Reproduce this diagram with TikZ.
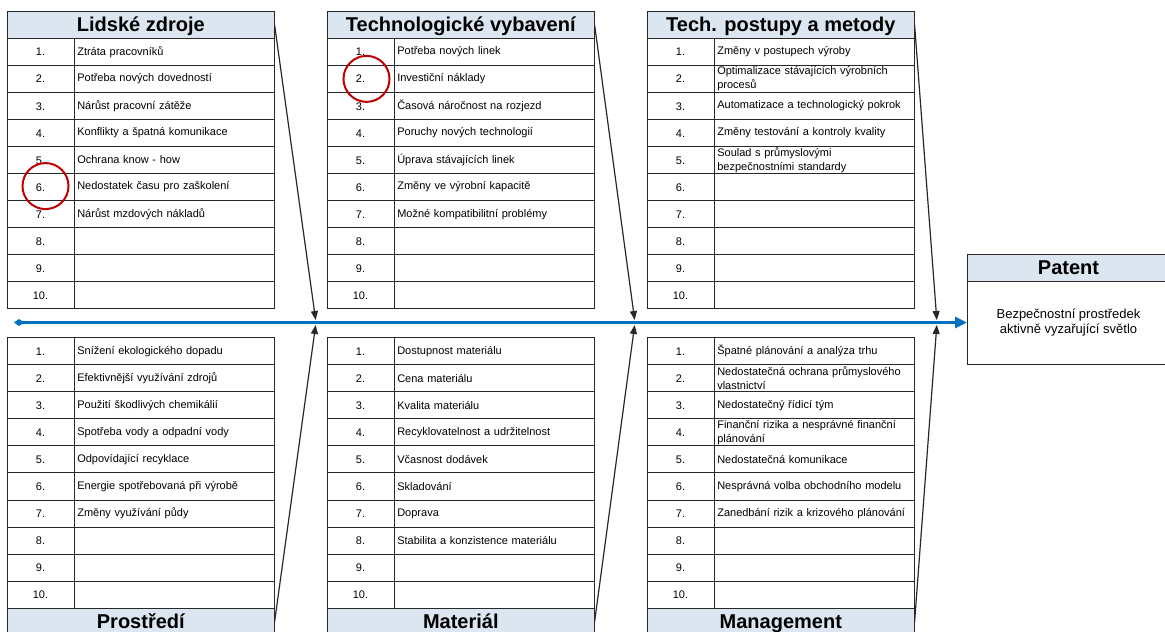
\documentclass[tikz,border=0pt]{standalone}
\usepackage{fontspec}
\setmainfont{Liberation Sans}
\usepackage{xcolor}
\usepackage{tikz}
\usetikzlibrary{arrows.meta,positioning}

\definecolor{headblue}{RGB}{220,230,241}
\definecolor{spineblue}{RGB}{0,112,192}
\definecolor{markred}{RGB}{192,0,0}
\definecolor{gridgray}{RGB}{40,40,40}

\begin{document}
\begin{tikzpicture}[x=1pt,y=-1pt,
    cell/.style={draw=gridgray, line width=1pt, outer sep=0pt, minimum height=27.05pt, inner ysep=0pt, font=\fontsize{11}{14}\selectfont},
    numcell/.style={cell, minimum width=67pt, inner xsep=0pt, text height=8.2pt, text depth=0pt},
    txtcell/.style={cell, text width=194pt, inner xsep=3.3pt, align=left},
    head/.style={draw=gridgray, line width=1pt, outer sep=0pt, fill=headblue, minimum width=267.6pt, minimum height=26.8pt, inner sep=0pt,
                 text height=15.4pt, text depth=2pt, font=\bfseries\fontsize{20}{24}\selectfont},
    bone/.style={draw=gridgray, line width=1.2pt, -{Triangle[length=9pt,width=7pt]}},
    spine/.style={draw=spineblue, line width=3pt, {Diamond[length=10pt,width=7pt]}-{Triangle[length=12pt,width=11pt]}},
    ring/.style={draw=markred, line width=2pt, circle, minimum size=46pt, inner sep=0pt}]
    \useasboundingbox (0,0) rectangle (1165,632);

    % top row of tables
    \node[head] (lz) at (140.8,25) {Lidské zdroje};
    \foreach \i/\txt in {1/Ztráta pracovníků, 2/Potřeba nových dovedností, 3/Nárůst pracovní zátěže, 4/Konflikty a špatná komunikace, 5/Ochrana know - how, 6/Nedostatek času pro zaškolení, 7/Nárůst mzdových nákladů, 8/{}, 9/{}, 10/{}}{
        \node[numcell] (lz-n\i) at (40.5,24.78+27.05*\i) {\i.};
        \node[txtcell, right=0pt of lz-n\i] (lz-t\i) {\txt};
    }

    \node[head] (tv) at (460.8,25) {Technologické vybavení};
    \foreach \i/\txt in {1/Potřeba nových linek, 2/Investiční náklady, 3/Časová náročnost na rozjezd, 4/Poruchy nových technologií, 5/Úprava stávajících linek, 6/Změny ve výrobní kapacitě, 7/Možné kompatibilitní problémy, 8/{}, 9/{}, 10/{}}{
        \node[numcell] (tv-n\i) at (360.5,24.78+27.05*\i) {\i.};
        \node[txtcell, right=0pt of tv-n\i] (tv-t\i) {\txt};
    }

    \node[head] (tp) at (780.8,25) {Tech. postupy a metody};
    \foreach \i/\txt in {1/Změny v postupech výroby, 2/{Optimalizace stávajících výrobních\\procesů}, 3/Automatizace a technologický pokrok, 4/Změny testování a kontroly kvality, 5/{Soulad s průmyslovými\\bezpečnostními standardy}, 6/{}, 7/{}, 8/{}, 9/{}, 10/{}}{
        \node[numcell] (tp-n\i) at (680.5,24.78+27.05*\i) {\i.};
        \node[txtcell, right=0pt of tp-n\i] (tp-t\i) {\txt};
    }

    % bottom row of tables
    \node[head] (pr) at (140.8,621.7) {Prostředí};
    \foreach \i/\txt in {1/Snížení ekologického dopadu, 2/Efektivnější využívání zdrojů, 3/Použití škodlivých chemikálií, 4/Spotřeba vody a odpadní vody, 5/Odpovídající recyklace, 6/Energie spotřebovaná při výrobě, 7/Změny využívání půdy, 8/{}, 9/{}, 10/{}}{
        \node[numcell] (pr-n\i) at (40.5,324.2+27.05*\i) {\i.};
        \node[txtcell, right=0pt of pr-n\i] (pr-t\i) {\txt};
    }

    \node[head] (ma) at (460.8,621.7) {Materiál};
    \foreach \i/\txt in {1/Dostupnost materiálu, 2/Cena materiálu, 3/Kvalita materiálu, 4/Recyklovatelnost a udržitelnost, 5/Včasnost dodávek, 6/Skladování, 7/Doprava, 8/Stabilita a konzistence materiálu, 9/{}, 10/{}}{
        \node[numcell] (ma-n\i) at (360.5,324.2+27.05*\i) {\i.};
        \node[txtcell, right=0pt of ma-n\i] (ma-t\i) {\txt};
    }

    \node[head] (mg) at (780.8,621.7) {Management};
    \foreach \i/\txt in {1/Špatné plánování a analýza trhu, 2/{Nedostatečná ochrana průmyslového\\vlastnictví}, 3/Nedostatečný řídicí tým, 4/{Finanční rizika a nesprávné finanční\\plánování}, 5/Nedostatečná komunikace, 6/Nesprávná volba obchodního modelu, 7/Zanedbání rizik a krizového plánování, 8/{}, 9/{}, 10/{}}{
        \node[numcell] (mg-n\i) at (680.5,324.2+27.05*\i) {\i.};
        \node[txtcell, right=0pt of mg-n\i] (mg-t\i) {\txt};
    }

    % patent box
    \node[head, minimum width=203pt, minimum height=27pt] (pat-h) at (1068.5,267.5) {Patent};
    \node[draw=gridgray, line width=1pt, outer sep=0pt, minimum width=203pt, minimum height=83pt, align=center,
          font=\fontsize{13}{15.7}\selectfont, below=0pt of pat-h] (pat-b) {Bezpečnostní prostředek\\aktivně vyzařující světlo};

    % spine and bones
    \coordinate (tail) at (14,322.5);
    \coordinate (j1) at (316,322.5);
    \coordinate (j2) at (635,322.5);
    \coordinate (j3) at (937,322.5);
    \draw[spine] (tail) -- (pat-b.west);
    \foreach \a/\b/\j in {lz/pr/j1, tv/ma/j2, tp/mg/j3}{
        \draw[bone, shorten >=2.5pt] (\a.east) -- (\j);
        \draw[bone, shorten >=2.5pt] (\b.east) -- (\j);
    }

    % red marks
    \node[ring, xshift=5pt, yshift=1pt] (mark1) at (lz-n6) {};
    \node[ring, xshift=6pt] (mark2) at (tv-n2) {};
\end{tikzpicture}
\end{document}
